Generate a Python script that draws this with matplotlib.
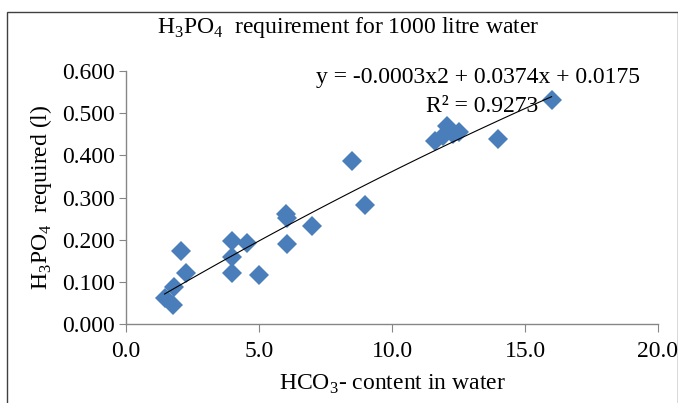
import matplotlib
matplotlib.use("Agg")
import matplotlib.pyplot as plt
from matplotlib.patches import Rectangle
import numpy as np

plt.rcParams['font.family'] = ['Liberation Serif', 'DejaVu Serif']
plt.rcParams['mathtext.fontset'] = 'custom'
plt.rcParams['mathtext.rm'] = 'Liberation Serif'

# data
hco3 = [1.45, 1.75, 1.8, 2.05, 2.25, 4.0, 4.0, 4.0, 4.55, 5.0, 6.0, 6.05, 6.05, 7.0, 8.5, 9.0,
        11.6, 11.9, 12.05, 12.3, 12.5, 14.0, 16.0]
h3po4 = [0.062, 0.045, 0.087, 0.172, 0.122, 0.198, 0.158, 0.120, 0.192, 0.117, 0.262, 0.252,
         0.189, 0.233, 0.386, 0.283, 0.434, 0.445, 0.470, 0.450, 0.455, 0.438, 0.531]
coef = [-0.0003, 0.0374, 0.0175]
xticks = [0, 5, 10, 15, 20]
yticks = [0, 0.1, 0.2, 0.3, 0.4, 0.5, 0.6]

FS = 17
W, H = 678, 403
fig = plt.figure(figsize=(W/100, H/100), dpi=100)
ax = fig.add_axes([126/W, 1-324/H, (658-126)/W, (324-71)/H])

ax.plot(hco3, h3po4, linestyle='none', marker='D', markersize=9.8,
        color='#4A7EBB', markeredgewidth=0, zorder=3)
xs = np.linspace(min(hco3), max(hco3), 100)
ax.plot(xs, np.polyval(coef, xs), color='black', linewidth=0.8, zorder=4)

ax.set_xlim(0, 20)
ax.set_ylim(0, 0.6)
ax.set_xticks(xticks)
ax.set_xticklabels([f"{v:.1f}" for v in xticks])
ax.set_yticks(yticks)
ax.set_yticklabels([f"{v:.3f}" for v in yticks])
for s in ['top', 'right']:
    ax.spines[s].set_visible(False)
for s in ['left', 'bottom']:
    ax.spines[s].set_color('#868686')
    ax.spines[s].set_linewidth(1.0)
ax.tick_params(axis='x', length=6, color='#868686', labelsize=FS, pad=6)
ax.tick_params(axis='y', length=5, color='#868686', labelsize=FS, pad=3)

ax.set_xlabel(r'HCO$_\mathregular{3}$- content in water', fontsize=FS, labelpad=8)
ax.set_ylabel(r'H$_\mathregular{3}$PO$_\mathregular{4}$  required (l)', fontsize=FS, labelpad=6)

fig.text(348/W, 1-27/H, r'H$_\mathregular{3}$PO$_\mathregular{4}$  requirement for 1000 litre water',
         ha='center', va='center', fontsize=FS)
fig.text(478/W, 1-78/H, 'y = -0.0003x2 + 0.0374x + 0.0175', ha='center', va='center', fontsize=FS)
fig.text(482/W, 1-107/H, 'R² = 0.9273', ha='center', va='center', fontsize=FS)

fig.patches.append(Rectangle((7/W, -0.05), (W-7)/W, (1 - 12/H) + 0.05, transform=fig.transFigure,
                             fill=False, edgecolor='#404040', linewidth=1.0))

fig.savefig('out.png', dpi=100)
